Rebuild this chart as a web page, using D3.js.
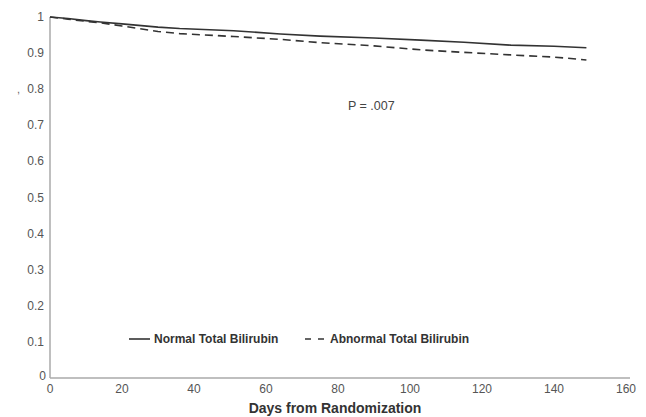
<!DOCTYPE html>
<html><head><meta charset="utf-8">
<script src="https://cdn.jsdelivr.net/npm/d3@7"></script>
<style>body{margin:0;background:#fff}svg{display:block}text{font-family:Arial,"Liberation Sans",sans-serif}</style>
</head><body><svg id="c" width="646" height="417"></svg>
<script>
const days = [0, 5, 10, 14, 20, 30, 36, 51, 64, 75, 90, 103, 115, 128, 140, 149];
const normal = [1.0, 0.996, 0.99, 0.986, 0.981, 0.972, 0.968, 0.962, 0.953, 0.947, 0.942, 0.936, 0.93, 0.922, 0.919, 0.915];
const abnormal = [1.0, 0.994, 0.988, 0.984, 0.975, 0.96, 0.954, 0.946, 0.938, 0.929, 0.92, 0.909, 0.902, 0.895, 0.889, 0.881];
const xTicks = [0, 20, 40, 60, 80, 100, 120, 140, 160];
const yTicks = [0, 0.1, 0.2, 0.3, 0.4, 0.5, 0.6, 0.7, 0.8, 0.9, 1];
const seriesNames = ["Normal Total Bilirubin", "Abnormal Total Bilirubin"];

const svg = d3.select("#c");
const x = d3.scaleLinear().domain([0, 160]).range([50, 626]);
const y = d3.scaleLinear().domain([0, 1]).range([378, 17]);

// axes lines
svg.append("line").attr("x1", 50).attr("x2", 630).attr("y1", y(0)).attr("y2", y(0)).attr("stroke", "#aaa").attr("stroke-width", 1.5);
svg.append("line").attr("x1", 50).attr("x2", 50).attr("y1", y(0)).attr("y2", y(1)).attr("stroke", "#aaa").attr("stroke-width", 1.5);

// y tick labels
svg.selectAll(".yt").data(yTicks).enter().append("text")
  .attr("x", d => d === 0 ? 46 : 44).attr("y", d => d === 0 ? y(d) + 2 : y(d) + 4)
  .attr("text-anchor", "end").attr("font-size", 12).attr("fill", "#555")
  .text(d => d === 0 ? "0" : d === 1 ? "1" : d3.format(".1f")(d));

// x tick labels
svg.selectAll(".xt").data(xTicks).enter().append("text")
  .attr("x", d => x(d)).attr("y", 393)
  .attr("text-anchor", "middle").attr("font-size", 12).attr("fill", "#555")
  .text(d => d);

// stray mark
svg.append("text").attr("x", 17).attr("y", 93).attr("font-size", 11).attr("fill", "#666").text(",");

// axis title
svg.append("text").attr("x", 335).attr("y", 413).attr("text-anchor", "middle")
  .attr("font-size", 14).attr("font-weight", "bold").attr("fill", "#333").text("Days from Randomization");

// lines
const line = d3.line().x((d, i) => x(days[i])).y(d => y(d));
svg.append("path").datum(normal).attr("d", line).attr("fill", "none").attr("stroke", "#333").attr("stroke-width", 1.6);
svg.append("path").datum(abnormal).attr("d", line).attr("fill", "none").attr("stroke", "#333").attr("stroke-width", 1.6).attr("stroke-dasharray", "8,5");

// P text
svg.append("text").attr("x", 348).attr("y", 110).attr("font-size", 12.5).attr("fill", "#444").text("P = .007");

// legend
const lg = svg.append("g");
lg.append("line").attr("x1", 129).attr("x2", 150).attr("y1", 339).attr("y2", 339).attr("stroke", "#333").attr("stroke-width", 1.6);
lg.append("text").attr("x", 154).attr("y", 343).attr("font-size", 12).attr("font-weight", "bold").attr("fill", "#333").text(seriesNames[0]);
lg.append("line").attr("x1", 305).attr("x2", 324).attr("y1", 339).attr("y2", 339).attr("stroke", "#333").attr("stroke-width", 1.6).attr("stroke-dasharray", "6,7");
lg.append("text").attr("x", 330).attr("y", 343).attr("font-size", 12).attr("font-weight", "bold").attr("fill", "#333").text(seriesNames[1]);
</script></body></html>
